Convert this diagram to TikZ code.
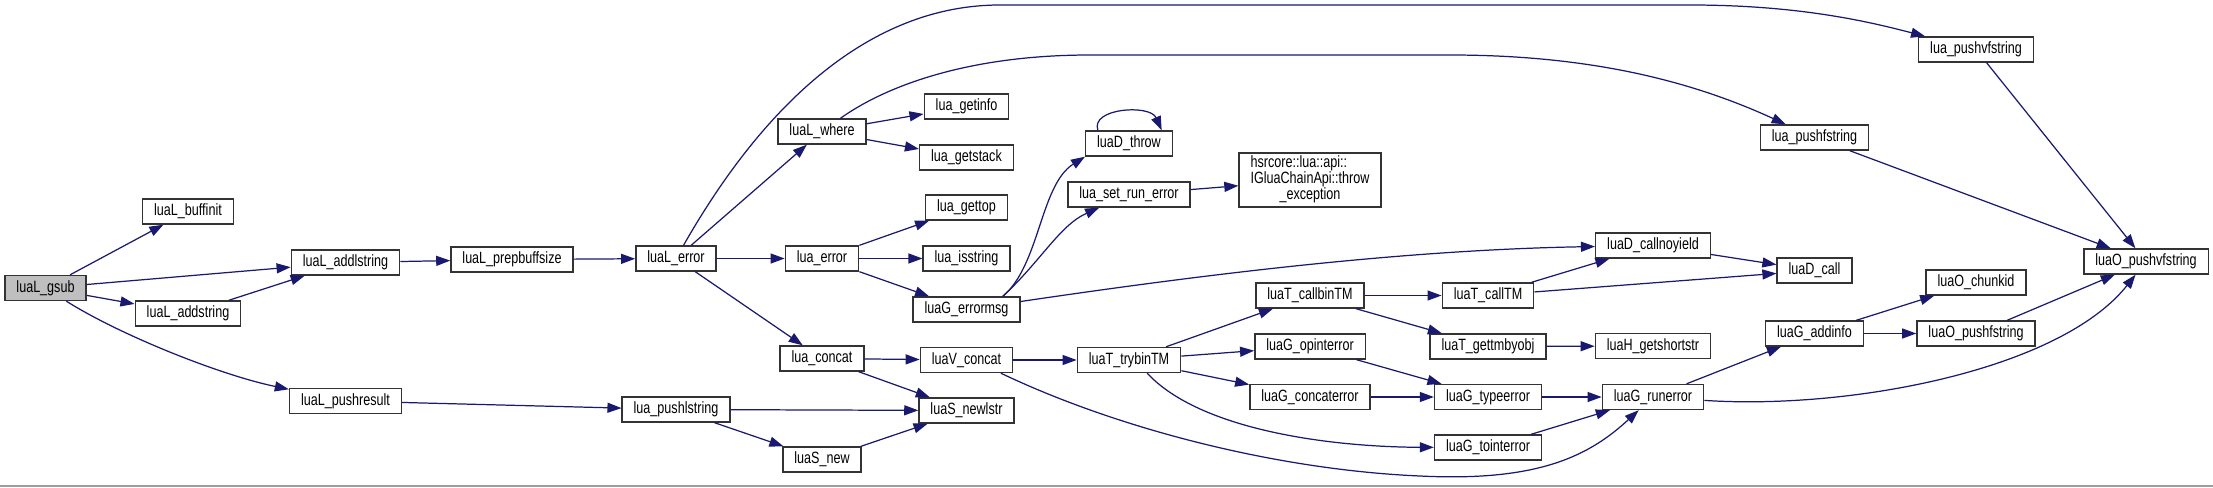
\documentclass[tikz,border=0pt]{standalone}
\usepackage{fontspec}
\setmainfont[FakeStretch=0.77]{Liberation Sans}
\usetikzlibrary{arrows.meta}
\definecolor{edgeblue}{HTML}{191970}
\definecolor{boxline}{HTML}{333333}

\begin{document}
\begin{tikzpicture}[x=0.02cm,y=-0.02cm,
    fn/.style={draw=boxline,line width=0.8pt,fill=white,inner xsep=0.23cm,inner ysep=0pt,
      minimum height=0.5cm,text height=6.7pt,text depth=1.9pt,font=\fontsize{9.3}{8.3}\selectfont},
    root/.style={fn,fill=black!25},
    call/.style={draw=edgeblue,line width=0.7pt,-{Triangle[length=8pt,width=5.7pt]}}]
  \useasboundingbox (0,0) rectangle (2213,487);
  \fill[black!38] (0,485) rectangle (2213,487);

  \node[root] (gsub) at (45.5,288) {luaL\_gsub};
  \node[fn] (buffinit) at (188,211.5) {luaL\_buffinit};
  \node[fn] (addlstring) at (345.5,262.5) {luaL\_addlstring};
  \node[fn] (addstring) at (188,313.5) {luaL\_addstring};
  \node[fn] (pushresult) at (345.5,401) {luaL\_pushresult};
  \node[fn] (prepbuffsize) at (512,259.5) {luaL\_prepbuffsize};
  \node[fn] (lerror) at (676,258.5) {luaL\_error};
  \node[fn] (pushlstring) at (676,409.5) {lua\_pushlstring};
  \node[fn] (where) at (822,131.5) {luaL\_where};
  \node[fn] (error) at (822,258.5) {lua\_error};
  \node[fn] (concat) at (822,358.5) {lua\_concat};
  \node[fn] (snew) at (822,459.5) {luaS\_new};
  \node[fn] (getinfo) at (966.5,106.5) {lua\_getinfo};
  \node[fn] (getstack) at (966.5,157.5) {lua\_getstack};
  \node[fn] (gettop) at (966.5,207.5) {lua\_gettop};
  \node[fn] (isstring) at (966.5,258.5) {lua\_isstring};
  \node[fn] (errormsg) at (966.5,309.5) {luaG\_errormsg};
  \node[fn] (vconcat) at (966.5,360) {luaV\_concat};
  \node[fn] (newlstr) at (966.5,410.5) {luaS\_newlstr};
  \node[fn] (throw) at (1129,143.5) {luaD\_throw};
  \node[fn] (setrunerror) at (1129,194.5) {lua\_set\_run\_error};
  \node[fn] (trybintm) at (1129,360) {luaT\_trybinTM};
  \node[fn,minimum height=1.08cm,text height=,text depth=] (hsrcore) at (1310,180)
    {\begin{tabular}{@{}l@{}}hsrcore::lua::api::\\IGluaChainApi::throw\\\multicolumn{1}{@{}c@{}}{\_exception}\end{tabular}};
  \node[fn] (callbintm) at (1310,295.5) {luaT\_callbinTM};
  \node[fn] (opinterror) at (1310,346.5) {luaG\_opinterror};
  \node[fn] (concaterror) at (1310,397) {luaG\_concaterror};
  \node[fn] (calltm) at (1488,295.5) {luaT\_callTM};
  \node[fn] (gettmbyobj) at (1488,346.5) {luaT\_gettmbyobj};
  \node[fn] (typeerror) at (1488,397) {luaG\_typeerror};
  \node[fn] (tointerror) at (1488,447.5) {luaG\_tointerror};
  \node[fn] (callnoyield) at (1653,245.5) {luaD\_callnoyield};
  \node[fn] (getshortstr) at (1653,346) {luaH\_getshortstr};
  \node[fn] (runerror) at (1653,397) {luaG\_runerror};
  \node[fn] (pushfstring) at (1814.5,137.5) {lua\_pushfstring};
  \node[fn] (dcall) at (1814.5,270.5) {luaD\_call};
  \node[fn] (addinfo) at (1814.5,333.5) {luaG\_addinfo};
  \node[fn] (pushvfstring) at (1976,49.5) {lua\_pushvfstring};
  \node[fn] (chunkid) at (1976,282.5) {luaO\_chunkid};
  \node[fn] (opushfstring) at (1976,333.5) {luaO\_pushfstring};
  \node[fn] (opushvfstring) at (2146,261.5) {luaO\_pushvfstring};

  \foreach \a/\b in {gsub/buffinit,gsub/addlstring,gsub/addstring,addstring/addlstring,
      addlstring/prepbuffsize,prepbuffsize/lerror,pushresult/pushlstring,lerror/where,
      lerror/error,lerror/concat,where/getinfo,where/getstack,error/gettop,error/isstring,
      error/errormsg,concat/vconcat,concat/newlstr,pushlstring/newlstr,pushlstring/snew,
      snew/newlstr,setrunerror/hsrcore,vconcat/trybintm,trybintm/callbintm,
      trybintm/opinterror,trybintm/concaterror,callbintm/calltm,callbintm/gettmbyobj,
      opinterror/typeerror,concaterror/typeerror,calltm/callnoyield,calltm/dcall,
      gettmbyobj/getshortstr,typeerror/runerror,tointerror/runerror,callnoyield/dcall,
      runerror/addinfo,addinfo/chunkid,addinfo/opushfstring,opushfstring/opushvfstring,
      pushfstring/opushvfstring,pushvfstring/opushvfstring}
    \draw[call] (\a) -- (\b);

  \draw[call] (gsub) .. controls (120,335) and (220,375) .. (pushresult);
  \draw[call] (lerror) .. controls (735,155) and (840,5) .. (1000,5) -- (1690,5)
    .. controls (1800,5) and (1870,22) .. (pushvfstring);
  \draw[call] (where) .. controls (880,90) and (960,55) .. (1090,55) -- (1450,55)
    .. controls (1600,55) and (1700,85) .. (pushfstring);
  \draw[call] (errormsg.20) .. controls (1040,265) and (1040,185) .. (throw.south west);
  \draw[call] (errormsg.20) .. controls (1040,262) and (1060,225) .. (setrunerror);
  \draw[call] (errormsg) .. controls (1200,275) and (1400,250) .. (callnoyield);
  \draw[call] (throw.157) .. controls (1090,108) and (1150,104) .. (throw.22);
  \draw[call] (vconcat.-21) .. controls (1120,430) and (1280,470) .. (1420,476)
    .. controls (1540,482) and (1590,455) .. (runerror);
  \draw[call] (trybintm.-36) .. controls (1200,430) and (1330,447) .. (tointerror);
  \draw[call] (runerror) .. controls (1850,410) and (2060,370) .. (opushvfstring);
\end{tikzpicture}
\end{document}
